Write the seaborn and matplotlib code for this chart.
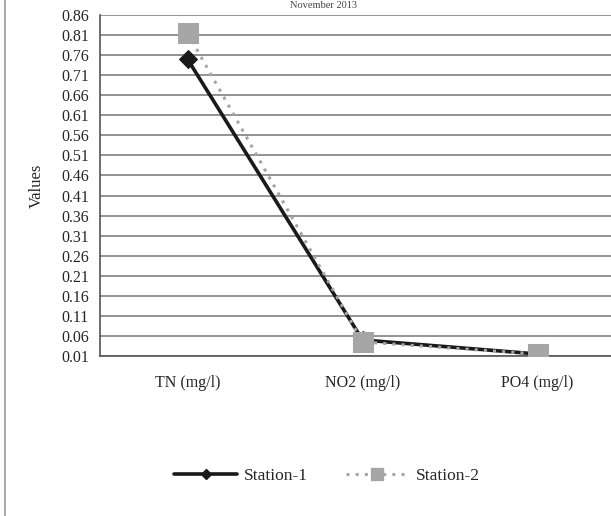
import matplotlib
matplotlib.use("Agg")
import matplotlib.pyplot as plt
import seaborn as sns
import pandas as pd
from matplotlib.lines import Line2D
from matplotlib.ticker import FixedLocator

# values
parameters = ["TN (mg/l)", "NO2 (mg/l)", "PO4 (mg/l)"]
tick_labels = ["TN (mg/l)", "NO2 (mg/l)", "PO4 (mg/l)"]
station_1 = [0.75, 0.05, 0.015]
station_2 = [0.815, 0.045, 0.015]
y_ticks = [0.01, 0.06, 0.11, 0.16, 0.21, 0.26, 0.31, 0.36, 0.41, 0.46,
           0.51, 0.56, 0.61, 0.66, 0.71, 0.76, 0.81, 0.86]

sns.set_style("white")
plt.rcParams["font.family"] = ["Liberation Serif", "DejaVu Serif"]

df1 = pd.DataFrame({"Parameter": range(len(parameters)), "Value": station_1})
df2 = pd.DataFrame({"Parameter": range(len(parameters)), "Value": station_2})

fig = plt.figure(figsize=(6.11, 5.16), dpi=100)
ax = fig.add_axes([100 / 611, 1 - 356 / 516, 525 / 611, 341 / 516])

# grid lines first so the series sit on top
for y in y_ticks:
    ax.axhline(y, color="#8a8a8a", lw=1.3, zorder=0)

sns.lineplot(data=df1, x="Parameter", y="Value", ax=ax, color="#1a1a1a",
             lw=2.6, marker="D", markersize=9, markeredgecolor="#1a1a1a",
             zorder=3)
# station 2 drawn on top: its squares hide the diamonds at NO2 and PO4
sns.lineplot(data=df2, x="Parameter", y="Value", ax=ax, color="#a6a6a6",
             linestyle=(0, (1, 2)), lw=2.2, marker="s", markersize=14,
             markeredgecolor="#a6a6a6", zorder=4)

ax.set_xlim(-0.5, len(parameters) - 0.5)
ax.set_ylim(0.01, 0.86)
ax.set_yticks(y_ticks)
ax.set_yticklabels([f"{v:.2f}" for v in y_ticks], fontsize=11.5)
ax.set_xticks(range(len(parameters)))
ax.set_xticklabels(tick_labels, fontsize=11.5)
ax.xaxis.set_minor_locator(FixedLocator([0.5, 1.5]))
ax.tick_params(axis="x", which="major", length=0, pad=14)
ax.tick_params(axis="x", which="minor", length=5, color="#555555", width=1)
ax.tick_params(axis="y", length=5, color="#555555", width=1, pad=3)
ax.set_xlabel("")
ax.set_ylabel("Values", fontsize=12, labelpad=12)

for side in ["top", "right"]:
    ax.spines[side].set_visible(False)
ax.spines["left"].set_color("#555555")
ax.spines["bottom"].set_color("#555555")
ax.spines["left"].set_linewidth(1.2)
ax.spines["bottom"].set_linewidth(1.2)

handles = [
    Line2D([], [], color="#1a1a1a", lw=2.6, marker="D", markersize=5),
    Line2D([], [], color="#a6a6a6", lw=2.2, linestyle=(0, (1, 2)),
           marker="s", markersize=9),
]
fig.legend(handles, ["Station-1", "Station-2"], loc="center",
           bbox_to_anchor=(0.535, 1 - 476 / 516), ncol=2, frameon=False,
           fontsize=12.5, handlelength=3.6, columnspacing=2.2,
           handletextpad=0.4)

# chart frame edge and small title at the top
fig.add_artist(Line2D([5 / 611, 5 / 611], [0, 1], color="#9a9a9a", lw=1.2))
fig.text(0.53, 1 - 1 / 516, "November 2013", ha="center", va="top",
         fontsize=7.5, color="#444444")

fig.savefig("out.png", dpi=100)
